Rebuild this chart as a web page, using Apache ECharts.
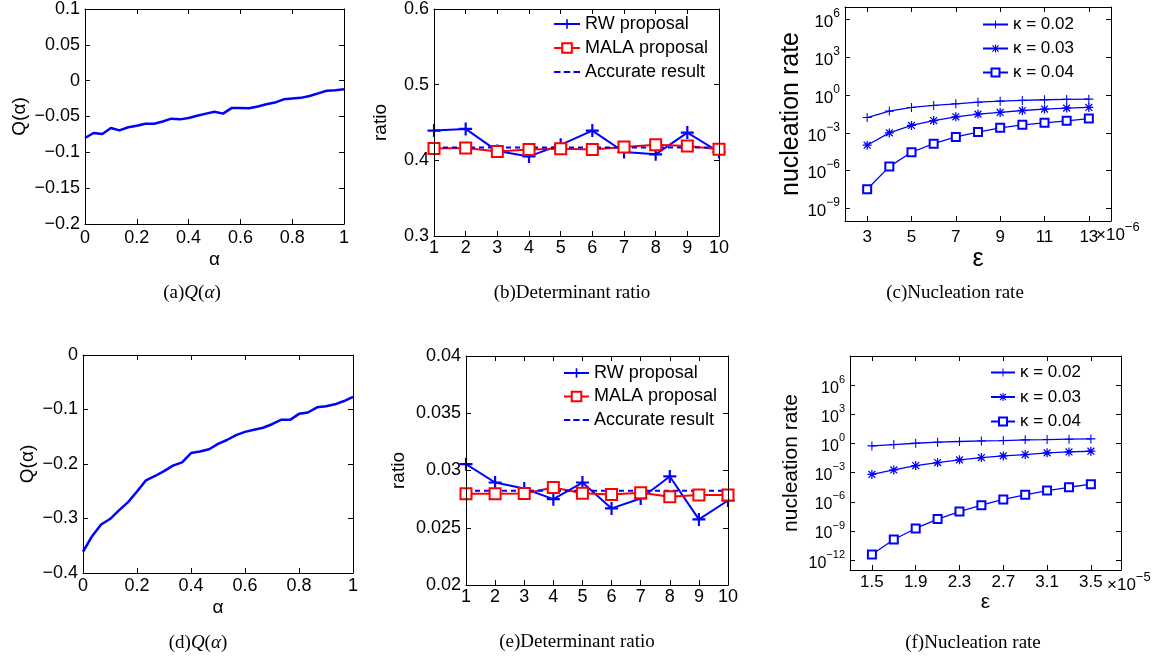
<!DOCTYPE html>
<html><head><meta charset="utf-8">
<script src="https://cdn.jsdelivr.net/npm/echarts@6/dist/echarts.min.js"></script>
<style>html,body{margin:0;padding:0;background:#fff}#c{width:1162px;height:662px}</style>
</head><body><div id="c"></div>
<script>
// ---------------- DATA ----------------
const alphaVals = [0,0.033,0.067,0.1,0.133,0.167,0.2,0.233,0.267,0.3,0.333,0.367,0.4,0.433,0.467,0.5,0.533,0.567,0.6,0.633,0.667,0.7,0.733,0.767,0.8,0.833,0.867,0.9,0.933,0.967,1];
const qA = [-0.080,-0.073,-0.0744,-0.066,-0.0694,-0.065,-0.063,-0.060,-0.060,-0.057,-0.053,-0.054,-0.052,-0.049,-0.046,-0.0435,-0.046,-0.038,-0.038,-0.0385,-0.036,-0.033,-0.0306,-0.026,-0.025,-0.024,-0.0214,-0.0177,-0.014,-0.0135,-0.012];
const qD = [-0.361,-0.333,-0.311,-0.301,-0.285,-0.270,-0.2505,-0.230,-0.222,-0.213,-0.203,-0.197,-0.180,-0.177,-0.173,-0.163,-0.156,-0.147,-0.141,-0.137,-0.1335,-0.127,-0.119,-0.119,-0.108,-0.1055,-0.096,-0.094,-0.0905,-0.0845,-0.077];

const runs = [1,2,3,4,5,6,7,8,9,10];
const rwB = [0.4393,0.4415,0.4122,0.4052,0.4205,0.4393,0.411,0.4079,0.4367,0.411];
const malaB = [0.4157,0.4162,0.4118,0.4144,0.4153,0.4144,0.4175,0.4205,0.4188,0.4148];
const accurateB = [0.417,0.417];
const rwE = [0.03055,0.02895,0.02843,0.0275,0.02895,0.02669,0.02756,0.02948,0.02573,0.02738];
const malaE = [0.02797,0.02797,0.028,0.02852,0.02802,0.02791,0.02805,0.0277,0.02785,0.02785];
const accurateE = [0.02823,0.02823];
const accurateX = [1,10];

const epsC = [3,4,5,6,7,8,9,10,11,12,13];           // x 1e-6
const rateC02 = [0.0166,0.0537,0.105,0.151,0.204,0.275,0.331,0.380,0.427,0.457,0.479];
const rateC03 = [1.05e-4,1.0e-3,3.9e-3,9.5e-3,1.9e-2,3.1e-2,4.2e-2,6.0e-2,7.8e-2,9.3e-2,1.05e-1];
const rateC04 = [3.3e-8,2.1e-6,2.9e-5,1.4e-4,4.8e-4,1.15e-3,2.5e-3,4.4e-3,6.3e-3,9.1e-3,1.38e-2];
const epsF = [1.5,1.7,1.9,2.1,2.3,2.5,2.7,2.9,3.1,3.3,3.5]; // x 1e-5
const rateF02 = [0.575,0.79,1.07,1.38,1.62,1.86,2.04,2.4,2.57,2.82,3.02];
const rateF03 = [6.6e-4,1.95e-3,5.5e-3,1.12e-2,2.1e-2,3.6e-2,5.4e-2,7.4e-2,1.1e-1,1.38e-1,1.62e-1];
const rateF04 = [4.0e-12,1.38e-10,1.86e-9,1.7e-8,1.02e-7,4.6e-7,1.78e-6,5.4e-6,1.48e-5,3.2e-5,6.6e-5];

const ticksEpsC = [3,5,7,9,11,13];
const ticksEpsF = [1.5,1.9,2.3,2.7,3.1,3.5];
const ticksRateC = [1e-9,1e-6,1e-3,1,1e3,1e6];
const ticksRateF = [1e-12,1e-9,1e-6,1e-3,1,1e3,1e6];

const namesB = ['RW proposal','MALA proposal','Accurate result'];
const namesC = ['κ = 0.02','κ = 0.03','κ = 0.04'];
const captions = ['(a)','(b)Determinant ratio','(c)Nucleation rate','(d)','(e)Determinant ratio','(f)Nucleation rate'];

// ---------------- STYLE ----------------
const SANS = 'Liberation Sans';
const SERIF = 'Liberation Serif';
const BLUE = '#0000ff', RED = '#ff0000';
const PLUS_BIG = 'path://M5,0H7V5H12V7H7V12H5V7H0V5H5Z';
const PLUS = 'path://M4.4,0H5.6V4.4H10V5.6H5.6V10H4.4V5.6H0V4.4H4.4Z';
const STAR = 'path://M4.3,0H5.7V10H4.3Z M0,4.3H10V5.7H0Z M1.695,0.705L9.295,8.305L8.305,9.295L0.705,1.695Z M8.305,0.705L9.295,1.695L1.695,9.295L0.705,8.305Z';
const DASH_ICON = 'path://M0,0H6V2H0Z M9,0H15V2H9Z M18,0H24V2H18Z';

const grids = [
  {left:85, top:8, width:259, height:216},
  {left:434, top:7, width:285, height:229},
  {left:845, top:7, width:266, height:214},
  {left:83, top:355, width:270, height:218},
  {left:466, top:356, width:262, height:229},
  {left:850, top:356, width:271, height:214}
];

const minus = s => String(s).replace(/-/g, '−');
const powLabel = v => { const e = Math.round(Math.log10(v)); return '{b|10}{s|' + minus(e) + '}'; };

const xAxes = [], yAxes = [];
function addAxes(g, xc, yc) {
  const common = (c, isX, mirror) => {
    const ax = {
      type: c.type || 'value', gridIndex: g,
      position: isX ? (mirror ? 'top' : 'bottom') : (mirror ? 'right' : 'left'),
      min: c.min, max: c.max,
      axisLine: {show: true, onZero: false, lineStyle: {color: '#000', width: 1}},
      axisTick: {show: true, inside: true, length: 5, lineStyle: {color: '#000', width: 1}},
      splitLine: {show: false}, minorTick: {show: false},
      axisLabel: {show: !mirror, color: '#000', fontFamily: SANS, fontSize: c.fs || 18, margin: c.margin,
                  formatter: c.fmt, rich: c.rich, hideOverlap: false, showMinLabel: true, showMaxLabel: true},
      z: 5
    };
    if (c.interval != null) ax.interval = c.interval;
    if (c.custom) { ax.axisLabel.customValues = c.custom; ax.axisTick.customValues = c.custom; }
    if (!mirror && c.name) {
      ax.name = c.name; ax.nameLocation = 'middle'; ax.nameGap = c.nameGap;
      ax.nameTextStyle = {color: '#000', fontFamily: SANS, fontSize: c.nameSize || 19};
    }
    return ax;
  };
  const xi = xAxes.length, yi = yAxes.length;
  xAxes.push(common(xc, true, false), common(xc, true, true));
  yAxes.push(common(yc, false, false), common(yc, false, true));
  return {xi, yi};
}
const richPow = fs => ({b: {fontFamily: SANS, fontSize: fs, color: '#000', verticalAlign: 'bottom', lineHeight: fs + 6},
                        s: {fontFamily: SANS, fontSize: Math.round(fs * 0.7), color: '#000', verticalAlign: 'top', lineHeight: 12}});

const A = addAxes(0, {min: 0, max: 1, interval: 0.2, margin: 5, name: 'α', nameGap: 26, fmt: v => minus(v)},
                     {min: -0.2, max: 0.1, interval: 0.05, margin: 5, name: 'Q(α)', nameGap: 56, fmt: v => minus(v)});
const B = addAxes(1, {min: 1, max: 10, interval: 1, margin: 3},
                     {min: 0.3, max: 0.6, interval: 0.1, margin: 5, name: 'ratio', nameGap: 44});
const C = addAxes(2, {min: 2, max: 14, custom: ticksEpsC, margin: 8, fs: 17, name: 'ε', nameGap: 20, nameSize: 25},
                     {type: 'log', min: 1e-10, max: 1e7, custom: ticksRateC, margin: 5, fs: 17, fmt: powLabel, rich: richPow(17),
                      name: 'nucleation rate', nameGap: 40, nameSize: 25});
const D = addAxes(3, {min: 0, max: 1, interval: 0.2, margin: 4, name: 'α', nameGap: 25, fmt: v => minus(v)},
                     {min: -0.4, max: 0, interval: 0.1, margin: 5, name: 'Q(α)', nameGap: 46, fmt: v => minus(v)});
const E = addAxes(4, {min: 1, max: 10, interval: 1, margin: 3},
                     {min: 0.02, max: 0.04, interval: 0.005, margin: 5, name: 'ratio', nameGap: 58});
const F = addAxes(5, {min: 1.3, max: 3.775, custom: ticksEpsF, margin: 4, fs: 17, fmt: v => v.toFixed(1), name: 'ε', nameGap: 22, nameSize: 21},
                     {type: 'log', min: 1e-13, max: 1e9, custom: ticksRateF, margin: 5, fs: 16, fmt: powLabel, rich: richPow(16),
                      name: 'nucleation rate', nameGap: 48, nameSize: 21});

const zip = (xs, ys) => xs.map((x, i) => [x, ys[i]]);
const series = [];
function line(ax, name, xs, ys, o) {
  series.push(Object.assign({
    type: 'line', name, xAxisIndex: ax.xi, yAxisIndex: ax.yi, data: zip(xs, ys),
    animation: false, silent: true, z: 3
  }, o));
}
const plain = {symbol: 'none', lineStyle: {color: BLUE, width: 2.5}, itemStyle: {color: BLUE}};
line(A, 'qa', alphaVals, qA, plain);
line(D, 'qd', alphaVals, qD, plain);

const rwStyle = {symbol: PLUS_BIG, symbolSize: 13, lineStyle: {color: BLUE, width: 2}, itemStyle: {color: BLUE}};
const malaStyle = {symbol: 'emptyRect', symbolSize: 11, lineStyle: {color: RED, width: 2}, itemStyle: {color: RED, borderColor: RED, borderWidth: 2}};
const accStyle = {symbol: 'none', lineStyle: {color: BLUE, width: 2, type: [5, 4]}, itemStyle: {color: BLUE}};
line(B, namesB[0], runs, rwB, rwStyle);
line(B, namesB[1], runs, malaB, malaStyle);
line(B, namesB[2], accurateX, accurateB, accStyle);
line(E, namesB[0], runs, rwE, rwStyle);
line(E, namesB[1], runs, malaE, malaStyle);
line(E, namesB[2], accurateX, accurateE, accStyle);

const k1 = {symbol: PLUS, symbolSize: 9, lineStyle: {color: BLUE, width: 1.3}, itemStyle: {color: BLUE}};
const k2 = {symbol: STAR, symbolSize: 9, lineStyle: {color: BLUE, width: 1.3}, itemStyle: {color: BLUE}};
const k3 = {symbol: 'emptyRect', symbolSize: 8, lineStyle: {color: BLUE, width: 1.3}, itemStyle: {color: BLUE, borderColor: BLUE, borderWidth: 1.3}};
line(C, namesC[0], epsC, rateC02, k1);
line(C, namesC[1], epsC, rateC03, k2);
line(C, namesC[2], epsC, rateC04, k3);
line(F, namesC[0], epsF, rateF02, k1);
line(F, namesC[1], epsF, rateF03, k2);
line(F, namesC[2], epsF, rateF04, k3);

const legendBase = (left, top, names, ih, gap, w, fs, dashed) => ({
  orient: 'vertical', left, top, itemWidth: w, itemHeight: ih, itemGap: gap, selectedMode: false,
  textStyle: {color: '#000', fontFamily: SANS, fontSize: fs, lineHeight: ih, padding: [0, 0, 0, 0]},
  data: names.map((n, i) => (dashed && i === 2) ? {name: n, icon: DASH_ICON, itemStyle: {color: BLUE}} : {name: n}),
  padding: 0
});

function caption(cx, cy, letter, title, isQ) {
  const text = isQ ? letter + '{i|Q}(' + '{i|α}' + ')' : letter + title;
  return {type: 'text', x: cx, y: cy, style: {
    text, fill: '#000', font: '19px "' + SERIF + '"', align: 'center', verticalAlign: 'middle',
    rich: {i: {fontFamily: SERIF, fontSize: 19, fontStyle: 'italic', fill: '#000'}}
  }};
}
function sciLabel(x, y, exp, fs) {
  return {type: 'text', x, y, style: {
    text: '{b|×10}{s|' + exp + '}', align: 'left', verticalAlign: 'middle',
    rich: {b: {fontFamily: SANS, fontSize: fs, fill: '#000', verticalAlign: 'bottom', lineHeight: fs + 6},
           s: {fontFamily: SANS, fontSize: Math.round(fs * 0.75), fill: '#000', verticalAlign: 'top', lineHeight: 12}}
  }};
}

const option = {
  backgroundColor: '#fff',
  animation: false,
  grid: grids.map(g => Object.assign({containLabel: false, show: false}, g)),
  xAxis: xAxes, yAxis: yAxes, series,
  legend: [
    legendBase(553, 15, namesB, 12, 6, 26, 18, true),
    legendBase(563, 364, namesB, 12, 5.5, 25, 18, true),
    legendBase(982, 16, namesC, 10, 7, 25, 17, false),
    legendBase(990, 364, namesC, 10, 7.5, 24, 17, false)
  ],
  graphic: [
    caption(192, 293, '(a)', '', true),
    caption(572, 293, '', captions[1], false),
    caption(955, 293, '', captions[2], false),
    caption(198, 643, '(d)', '', true),
    caption(577, 642, '', captions[4], false),
    caption(973, 643, '', captions[5], false),
    sciLabel(1096, 232, '−6', 17),
    sciLabel(1107, 582, '−5', 17)
  ]
};
const chart = echarts.init(document.getElementById('c'), null, {renderer: 'canvas'});
chart.setOption(option);
</script></body></html>
